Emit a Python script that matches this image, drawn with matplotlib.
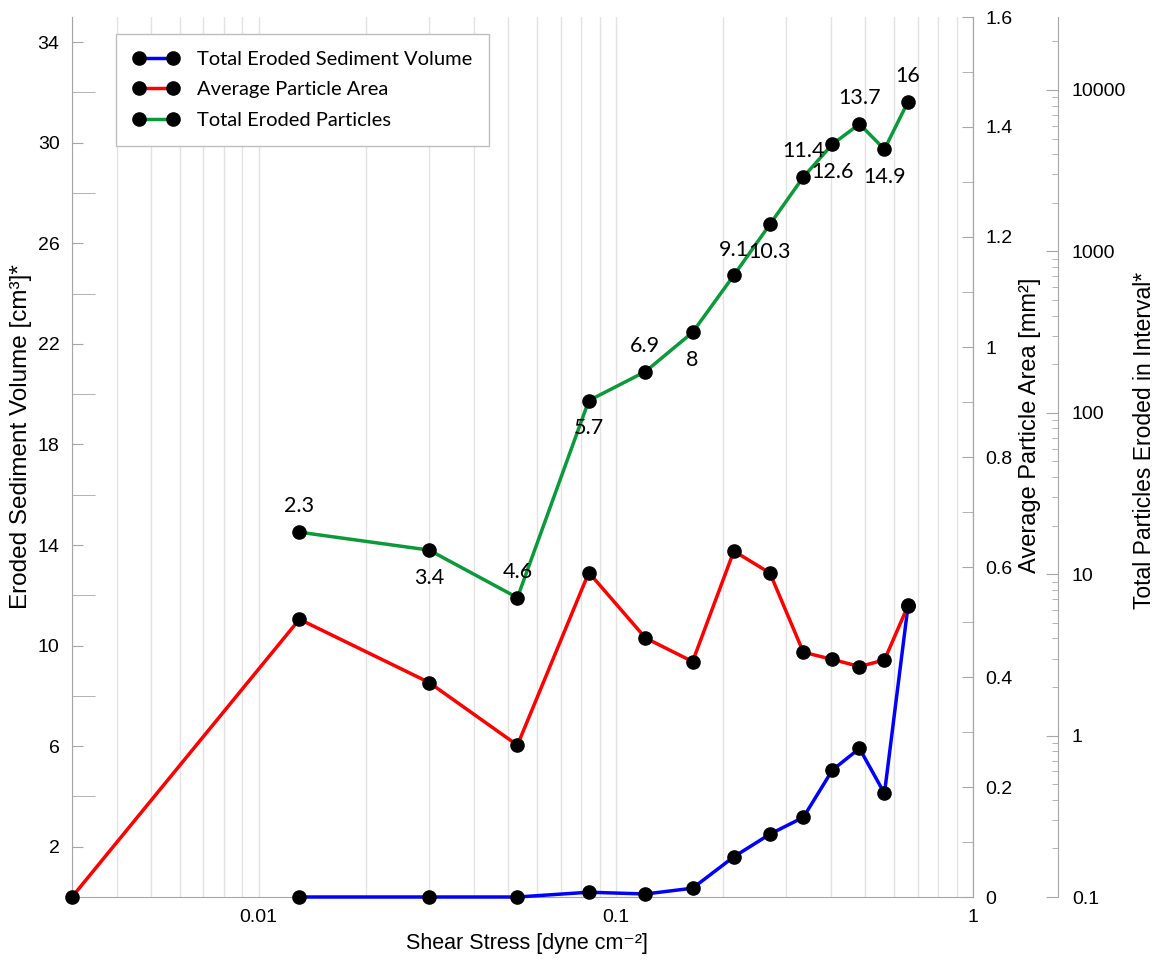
import matplotlib
matplotlib.use("Agg")
import matplotlib.pyplot as plt  # noqa: E402
import numpy as np  # noqa: E402
from matplotlib.lines import Line2D  # noqa: E402
from matplotlib.ticker import (FixedLocator, FuncFormatter, LogLocator,  # noqa: E402
                               NullFormatter)

# values
shear = [0.013, 0.030, 0.053, 0.084, 0.121, 0.164, 0.214, 0.270, 0.335,
         0.404, 0.481, 0.565, 0.658]                      # dyne cm-2
volume = [0.0, 0.0, 0.0, 0.19, 0.12, 0.35, 1.60, 2.5, 3.17, 5.05, 5.91,
          4.12, 11.6]                                      # cm3
area_shear = [0.003] + shear
area = [0.0, 0.505, 0.390, 0.276, 0.590, 0.471, 0.428, 0.629, 0.589, 0.445,
        0.432, 0.419, 0.431, 0.530]                        # mm2
particles = [18.2, 14.1, 7.15, 119, 180, 315, 711, 1470, 2890, 4610, 6150,
             4290, 8470]
interval_min = [2.3, 3.4, 4.6, 5.7, 6.9, 8, 9.1, 10.3, 11.4, 12.6, 13.7,
                14.9, 16]

BLUE, RED, GREEN = "#0000ff", "#ff0000", "#0b9a3a"
GRAY = "#a6a6a6"
SANS = ["Liberation Sans", "DejaVu Sans"]
NOTE = ["Lato", "DejaVu Sans"]
fmt_g = FuncFormatter(lambda v, _: f"{v:g}")

fig = plt.figure(figsize=(11.63, 9.6), dpi=100)
ax = fig.add_axes([72 / 1163, 63 / 960, 901 / 1163, 880 / 960])
ax2 = ax.twinx()
ax3 = ax.twinx()
ax3.spines["right"].set_position(("axes", 1 + 85 / 901))

ax.set_xscale("log")
ax.set_xlim(0.003, 1)
ax.set_ylim(0, 35)
ax2.set_ylim(0, 1.6)
ax3.set_yscale("log")
ax3.set_ylim(0.1, 28300)

for a in (ax, ax2, ax3):
    for s in a.spines.values():
        s.set_color(GRAY)
    a.spines["top"].set_visible(False)
for a in (ax2, ax3):
    a.spines["left"].set_visible(False)
    a.spines["bottom"].set_visible(False)

ax.grid(which="both", axis="x", color="#e3e3e3", lw=1)
ax.xaxis.set_major_formatter(fmt_g)
ax.xaxis.set_minor_formatter(NullFormatter())
ax.tick_params(axis="x", which="both", length=0, pad=9, labelsize=14)

ax.yaxis.set_major_locator(FixedLocator(np.arange(2, 35, 4)))
ax.yaxis.set_minor_locator(FixedLocator(np.arange(4, 33, 4)))
ax.yaxis.set_major_formatter(fmt_g)
ax.tick_params(axis="y", which="major", direction="in", length=8,
               color=GRAY, pad=9, labelsize=14)
ax.tick_params(axis="y", which="minor", direction="in", length=16.5,
               color=GRAY)

ax2.yaxis.set_major_locator(FixedLocator(np.arange(0, 1.61, 0.2)))
ax2.yaxis.set_minor_locator(FixedLocator(np.arange(0.1, 1.6, 0.2)))
ax2.yaxis.set_major_formatter(fmt_g)
ax2.tick_params(axis="y", which="both", direction="in", length=8,
                color=GRAY, pad=9, labelsize=14)

ax3.yaxis.set_major_locator(LogLocator(base=10, numticks=12))
ax3.yaxis.set_minor_locator(LogLocator(base=10, subs=np.arange(2, 10),
                                       numticks=12))
ax3.yaxis.set_major_formatter(fmt_g)
ax3.yaxis.set_minor_formatter(NullFormatter())
ax3.tick_params(axis="y", which="major", direction="in", length=8.6,
                color=GRAY, pad=10, labelsize=14)
ax3.tick_params(axis="y", which="minor", direction="in", length=4.3,
                color=GRAY)

for a in (ax, ax2, ax3):
    for lab in a.get_xticklabels() + a.get_yticklabels():
        lab.set_family(SANS)

style = dict(lw=2.5, marker="o", ms=9.5, mfc="black", mec="black",
             clip_on=False, zorder=3)
ax.plot(shear, volume, color=BLUE, **style)
ax2.plot(area_shear, area, color=RED, **style)
ax3.plot(shear, particles, color=GREEN, **style)

for i, (x, y, m) in enumerate(zip(shear, particles, interval_min)):
    dy = 18.5 if i % 2 == 0 else -20
    ax3.annotate(f"{m:g}", (x, y), xytext=(0, dy), textcoords="offset points",
                 ha="center", va="center", fontsize=15.5, family=NOTE)

ax.set_xlabel("Shear Stress [dyne cm\u207b\u00b2]", fontsize=15.5,
              family=SANS, va="center")
ax.xaxis.set_label_coords(0.505, -0.0523)
ax.set_ylabel("Eroded Sediment Volume [cm\u00b3]*", fontsize=17.5,
              family=SANS, va="center")
ax.yaxis.set_label_coords(-0.0566, 0.523)
ax2.set_ylabel("Average Particle Area [mm\u00b2]", fontsize=17,
               family=SANS, rotation=90, va="center")
ax2.yaxis.set_label_coords(1.0633, 0.536)
ax3.set_ylabel("Total Particles Eroded in Interval*", fontsize=16.5,
               family=SANS, rotation=90, va="center")
ax3.yaxis.set_label_coords(1.190, 0.519)

handles = [Line2D([], [], color=c, lw=2.5, marker="o", ms=9.5, mfc="black",
                  mec="black") for c in (BLUE, RED, GREEN)]
leg = ax3.legend(handles, ["Total Eroded Sediment Volume",
                           "Average Particle Area",
                           "Total Eroded Particles"],
                 loc="upper left", bbox_to_anchor=(0.0488, 0.9807),
                 borderaxespad=0, numpoints=2, handlelength=2.3,
                 handletextpad=0.85, borderpad=0.85, labelspacing=0.65,
                 fancybox=False, framealpha=1, edgecolor="#bfbfbf",
                 prop={"family": NOTE, "size": 14.5})
leg.get_frame().set_linewidth(1.0)
leg.set_zorder(10)

fig.savefig("out.png", dpi=100)
